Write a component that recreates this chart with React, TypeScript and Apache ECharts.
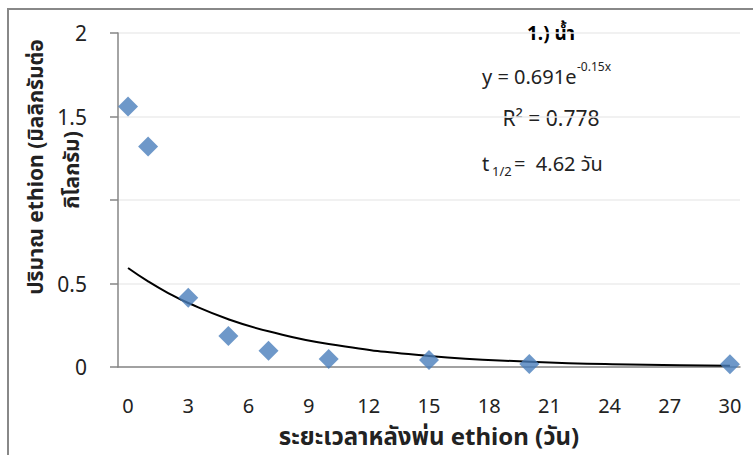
import React, { useEffect, useRef } from "react";
import * as echarts from "echarts";

const categories: string[] = Array.from({ length: 31 }, (_, i) => String(i));
const observedDays: number[] = [0, 1, 3, 5, 7, 10, 15, 20, 30];
const observedValues: number[] = [1.56, 1.32, 0.415, 0.185, 0.098, 0.048, 0.042, 0.018, 0.016];
const trendDays: number[] = [0, 1, 2, 3, 5, 7, 10, 15, 20, 25, 30];
const trendValues: number[] = [0.593, 0.513, 0.443, 0.383, 0.286, 0.214, 0.138, 0.066, 0.032, 0.015, 0.008];
const yTicks: number[] = [0, 0.5, 1, 1.5, 2];
const hiddenYLabels: number[] = [1];

const FONT = "'Noto Sans', 'Noto Sans Thai', Tahoma, sans-serif";

export default function App() {
  const ref = useRef<HTMLDivElement>(null);
  useEffect(() => {
    if (!ref.current) return;
    const chart = echarts.init(ref.current, undefined, { renderer: "svg" });
    chart.setOption({
      animation: false,
      backgroundColor: "#ffffff",
      grid: { left: 118, right: 13, top: 33, bottom: 88 },
      xAxis: {
        type: "category",
        data: categories,
        boundaryGap: true,
        axisLine: { lineStyle: { color: "#868686", width: 1.5 } },
        axisTick: { interval: 0, length: 7, lineStyle: { color: "#868686", width: 1.5 } },
        axisLabel: { interval: 2, margin: 28, fontSize: 20, color: "#222", fontFamily: FONT },
        splitLine: { show: false },
      },
      yAxis: {
        type: "value",
        min: yTicks[0],
        max: yTicks[yTicks.length - 1],
        interval: 0.5,
        axisLine: { show: true, lineStyle: { color: "#868686", width: 1.5 } },
        axisTick: { show: true, length: 8, lineStyle: { color: "#868686", width: 1.5 } },
        axisLabel: {
          margin: 31,
          fontSize: 21,
          color: "#222",
          fontFamily: FONT,
          formatter: (v: number) => (hiddenYLabels.includes(v) ? "" : String(v)),
        },
        splitLine: { lineStyle: { color: "#ececec", width: 1.5 } },
      },
      series: [
        {
          type: "line",
          data: trendDays.map((d, i) => [d, trendValues[i]]),
          smooth: true,
          showSymbol: false,
          lineStyle: { color: "#000", width: 2 },
          z: 2,
        },
        {
          type: "scatter",
          data: observedDays.map((d, i) => [d, observedValues[i]]),
          symbol: "diamond",
          symbolSize: [20, 20],
          itemStyle: { color: "#4a7ebb" },
          z: 3,
        },
      ],
      graphic: [
        {
          type: "rect",
          shape: { x: 8, y: 9, width: 800, height: 500 },
          style: { fill: "none", stroke: "#888", lineWidth: 2 },
          silent: true,
        },
        {
          type: "text",
          x: 551, y: 33,
          style: { text: "1.) น้ำ", fontSize: 19, fontWeight: "bold", fill: "#000", fontFamily: FONT, align: "center", verticalAlign: "middle" },
        },
        {
          type: "text",
          x: 482, y: 76,
          style: { text: "y = 0.691e", fontSize: 20, fill: "#222", fontFamily: FONT, align: "left", verticalAlign: "middle" },
        },
        {
          type: "text",
          x: 577, y: 66,
          style: { text: "-0.15x", fontSize: 12, fill: "#222", fontFamily: FONT, align: "left", verticalAlign: "middle" },
        },
        {
          type: "text",
          x: 551, y: 118,
          style: { text: "R² = 0.778", fontSize: 21, fill: "#222", fontFamily: FONT, align: "center", verticalAlign: "middle" },
        },
        {
          type: "text",
          x: 482, y: 163,
          style: { text: "t", fontSize: 20, fill: "#222", fontFamily: FONT, align: "left", verticalAlign: "middle" },
        },
        {
          type: "text",
          x: 492, y: 171,
          style: { text: "1/2", fontSize: 13, fill: "#222", fontFamily: FONT, align: "left", verticalAlign: "middle" },
        },
        {
          type: "text",
          x: 514, y: 163,
          style: { text: "=  4.62 วัน", fontSize: 20, fill: "#222", fontFamily: FONT, align: "left", verticalAlign: "middle" },
        },
        {
          type: "text",
          x: 35, y: 167,
          rotation: Math.PI / 2,
          style: { text: "ปริมาณ ethion (มิลลิกรัมต่อ", fontSize: 21, fontWeight: "bold", fill: "#222", fontFamily: FONT, align: "center", verticalAlign: "middle" },
        },
        {
          type: "text",
          x: 71, y: 170,
          rotation: Math.PI / 2,
          style: { text: "กิโลกรัม)", fontSize: 21, fontWeight: "bold", fill: "#222", fontFamily: FONT, align: "center", verticalAlign: "middle" },
        },
        {
          type: "text",
          x: 429, y: 435,
          style: { text: "ระยะเวลาหลังพ่น ethion (วัน)", fontSize: 24, fontWeight: "bold", fill: "#222", fontFamily: FONT, align: "center", verticalAlign: "middle" },
        },
      ],
    });
    return () => chart.dispose();
  }, []);
  return <div ref={ref} style={{ position: "absolute", left: 0, top: 0, width: 753, height: 455 }} />;
}
